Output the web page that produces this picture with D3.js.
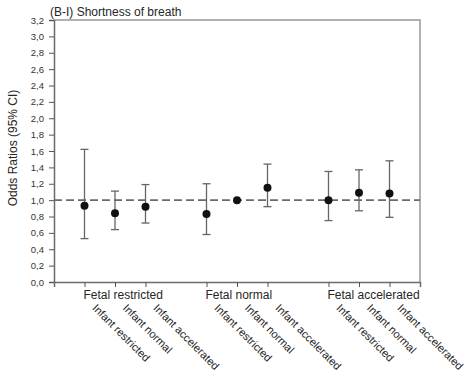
<!DOCTYPE html>
<html>
<head>
<meta charset="utf-8">
<script src="https://cdn.jsdelivr.net/npm/d3@7"></script>
<style>
  body { margin: 0; background: #fff; }
  svg text { font-family: "Liberation Sans", Arial, sans-serif; fill: #262626; }
</style>
</head>
<body>
<svg id="chart" width="470" height="383"></svg>
<script>
// Odds ratios with 95% confidence intervals, grouped by fetal growth pattern
const groups = ["Fetal restricted", "Fetal normal", "Fetal accelerated"];
const subgroups = ["Infant restricted", "Infant normal", "Infant accelerated"];
const positions = [1, 2, 3, 5, 6, 7, 9, 10, 11];
const oddsRatio = [0.93, 0.84, 0.92, 0.83, 1.00, 1.15, 1.00, 1.09, 1.08];
const ciLower   = [0.53, 0.64, 0.72, 0.58, null, 0.92, 0.75, 0.87, 0.79];
const ciUpper   = [1.62, 1.11, 1.19, 1.20, null, 1.44, 1.35, 1.37, 1.48];
const yTicks = [0, 0.2, 0.4, 0.6, 0.8, 1.0, 1.2, 1.4, 1.6, 1.8, 2.0, 2.2, 2.4, 2.6, 2.8, 3.0, 3.2];
const title = "(B-I) Shortness of breath";
const yLabel = "Odds Ratios (95% CI)";

const svg = d3.select("#chart");
const plotLeft = 54, plotRight = 420, plotTop = 20, plotBottom = 282;

const x = d3.scaleLinear().domain([0, 12]).range([plotLeft, plotRight]);
const y = d3.scaleLinear().domain([0, 3.2]).range([plotBottom, plotTop]);

const fmt = d => d3.format(".1f")(d).replace(".", ",");

// frame (top and right edges)
svg.append("path")
  .attr("d", `M${plotLeft},${plotTop}H${plotRight}V${plotBottom}`)
  .attr("fill", "none").attr("stroke", "#9a9696").attr("stroke-width", 1.5);

// y axis
const yAxis = svg.append("g").attr("transform", `translate(${plotLeft},0)`)
  .call(d3.axisLeft(y).tickValues(yTicks).tickFormat(fmt).tickSize(5).tickPadding(5));
yAxis.select(".domain").attr("stroke", "#6e6a6a").attr("stroke-width", 1.5);
yAxis.selectAll(".tick line").attr("stroke", "#555");
yAxis.selectAll(".tick text").attr("font-size", 9.5).style("fill", "#333");

// x axis with one tick per estimate
const xAxis = svg.append("g").attr("transform", `translate(0,${plotBottom})`)
  .call(d3.axisBottom(x).tickValues(positions).tickFormat("").tickSize(5));
xAxis.select(".domain").attr("stroke", "#6e6a6a").attr("stroke-width", 1.5);
xAxis.selectAll(".tick line").attr("stroke", "#555");

// reference line at OR = 1
svg.append("line")
  .attr("x1", plotLeft).attr("x2", plotRight)
  .attr("y1", y(1)).attr("y2", y(1))
  .attr("stroke", "#6a6a6a").attr("stroke-width", 1.6)
  .attr("stroke-dasharray", "8,4");

// confidence intervals
const rows = positions.map((p, i) => ({ p, or: oddsRatio[i], lo: ciLower[i], hi: ciUpper[i] }));
const ci = svg.append("g").attr("stroke", "#666").attr("stroke-width", 1.3);
rows.filter(d => d.lo != null).forEach(d => {
  ci.append("line").attr("x1", x(d.p)).attr("x2", x(d.p)).attr("y1", y(d.lo)).attr("y2", y(d.hi));
  [d.lo, d.hi].forEach(v => {
    ci.append("line").attr("x1", x(d.p) - 4).attr("x2", x(d.p) + 4).attr("y1", y(v)).attr("y2", y(v));
  });
});

// point estimates
svg.append("g").selectAll("circle").data(rows).join("circle")
  .attr("cx", d => x(d.p)).attr("cy", d => y(d.or)).attr("r", 4)
  .attr("fill", "#111");

// group labels, starting at the first tick of each group
groups.forEach((g, gi) => {
  svg.append("text")
    .attr("x", x(positions[gi * 3]) - 1).attr("y", 299)
    .attr("font-size", 12).text(g);
});

// rotated subgroup labels
positions.forEach((p, i) => {
  const tx = x(p) + 10, ty = 306;
  svg.append("text")
    .attr("transform", `translate(${tx},${ty}) rotate(45)`)
    .attr("dy", "0.35em")
    .attr("font-size", 11).text(subgroups[i % 3]);
});

// title
svg.append("text").attr("x", 50).attr("y", 16).attr("font-size", 12).text(title);

// y axis label
svg.append("text")
  .attr("transform", `translate(17,148) rotate(-90)`)
  .attr("text-anchor", "middle").attr("font-size", 12).text(yLabel);
</script>
</body>
</html>
